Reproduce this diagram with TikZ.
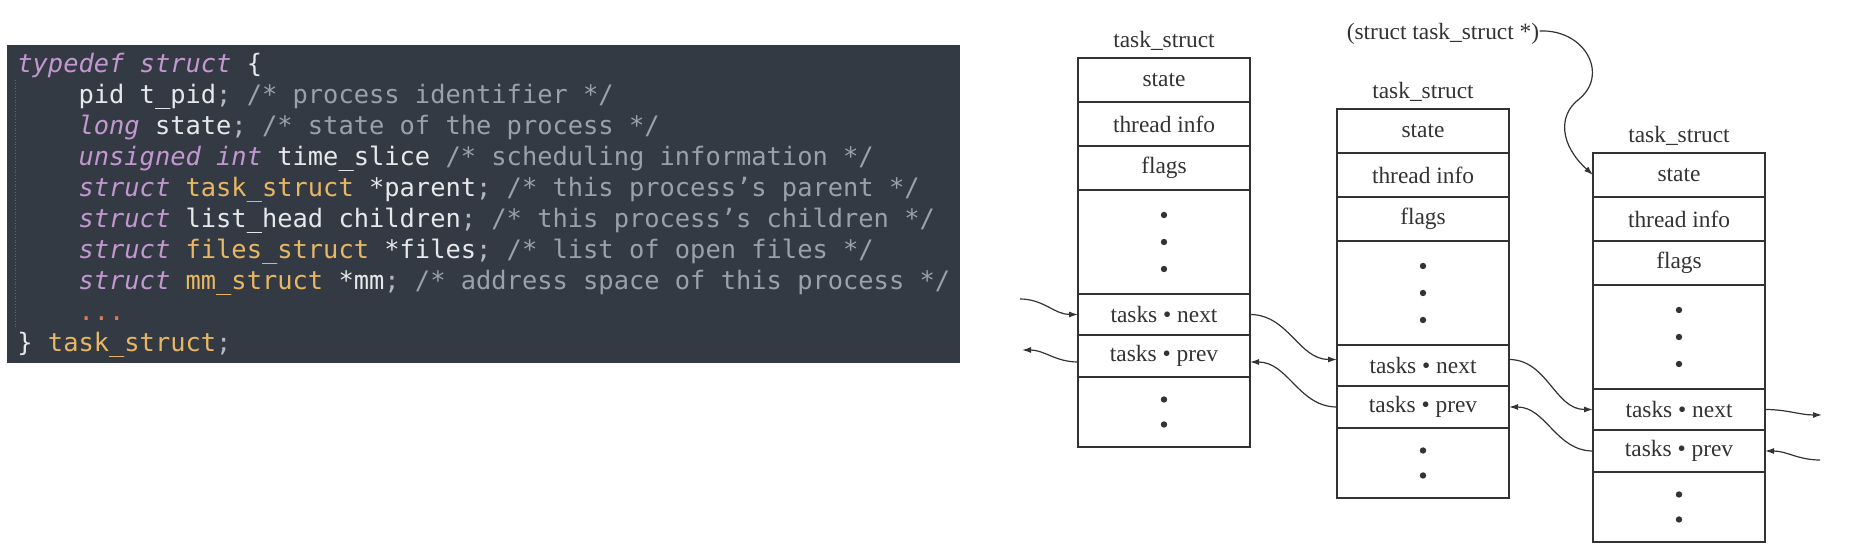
\documentclass[tikz,border=0pt]{standalone}
\usepackage{fontspec}
\setmonofont{DejaVu Sans Mono}
\newfontfamily\figfont{Liberation Serif}
\usepackage{xcolor}
\usepackage{tikz}
\usetikzlibrary{arrows.meta,positioning}

\definecolor{codebg}{HTML}{343A44}
\definecolor{txcol}{HTML}{E6E8EB}
\definecolor{kwcol}{HTML}{C397D0}
\definecolor{tycol}{HTML}{E8B764}
\definecolor{cmcol}{HTML}{9BA1AB}
\definecolor{pncol}{HTML}{B4B9C1}
\definecolor{dtcol}{HTML}{E0795A}
\definecolor{inkcol}{HTML}{333333}

\newcommand\kw[1]{\textcolor{kwcol}{\itshape #1}}
\newcommand\ty[1]{\textcolor{tycol}{#1}}
\newcommand\cm[1]{\textcolor{cmcol}{#1}}
\newcommand\pn[1]{\textcolor{pncol}{#1}}
\newcommand\dt[1]{\textcolor{dtcol}{#1}}
\newcommand\ind{\hphantom{xxxx}}

\begin{document}
\begin{tikzpicture}[
  x=0.5pt, y=-0.5pt,
  codeline/.style={anchor=base west, inner sep=0pt, text=txcol,
                   font=\ttfamily\fontsize{12.7}{15.5}\selectfont},
  cell/.style={draw=inkcol, line width=0.8pt, minimum width=86pt,
               inner sep=0pt, outer sep=0pt, text=inkcol,
               font=\figfont\fontsize{11.7}{14}\selectfont},
  heading/.style={inner sep=0pt, text depth=0pt, text=inkcol,
                  font=\figfont\fontsize{11.7}{14}\selectfont},
  link/.style={draw=inkcol, line width=0.6pt, -{Latex[length=4.5pt,width=3pt]}},
  guide/.style={draw=cmcol!45!codebg, line width=0.4pt, densely dotted}]
\useasboundingbox (0,0) rectangle (1860,560);

% code listing
\fill[codebg] (7,45) rectangle (960,363);
\draw[guide] (15,80) -- (15,327);
\foreach \ln [count=\n] in {
  {\kw{typedef struct} \{},
  {\ind pid t\_pid\pn{;} \cm{/* process identifier */}},
  {\ind\kw{long} state\pn{;} \cm{/* state of the process */}},
  {\ind\kw{unsigned int} time\_slice \cm{/* scheduling information */}},
  {\ind\kw{struct} \ty{task\_struct} *parent\pn{;} \cm{/* this process’s parent */}},
  {\ind\kw{struct} list\_head children\pn{;} \cm{/* this process’s children */}},
  {\ind\kw{struct} \ty{files\_struct} *files\pn{;} \cm{/* list of open files */}},
  {\ind\kw{struct} \ty{mm\_struct} *mm\pn{;} \cm{/* address space of this process */}},
  {\ind\dt{...}},
  {\} \ty{task\_struct}\pn{;}}}
  \node[codeline] (code\n) at (17,41.7+31*\n) {\ln};

% three task_struct records
\foreach \i/\cx/\yy in {1/1164/58, 2/1423/109, 3/1679/153} {
  \node[cell, minimum height=22pt, anchor=north] (state\i) at (\cx,\yy) {state};
  \node[cell, minimum height=22pt, below=0pt of state\i] (info\i) {thread info};
  \node[cell, minimum height=22pt, below=0pt of info\i] (flags\i) {flags};
  \node[cell, minimum height=52pt, below=0pt of flags\i] (gap\i) {};
  \node[cell, minimum height=20.5pt, below=0pt of gap\i] (next\i) {tasks \textbullet{} next};
  \node[cell, minimum height=21pt, below=0pt of next\i] (prev\i) {tasks \textbullet{} prev};
  \node[cell, minimum height=35pt, below=0pt of prev\i] (rest\i) {};
  \node[heading, above=5pt of state\i] (title\i) {task\_struct};
  \foreach \d in {-1,0,1}
    \fill[inkcol] (gap\i.center) ++(0,27*\d) circle[radius=1.6pt];
  \foreach \d in {-1,1}
    \fill[inkcol] (rest\i.center) ++(0,12.5*\d) circle[radius=1.6pt];
}

\node[heading] (ptr) at (1443,31) {(struct task\_struct *)};
\draw[link] (ptr.east) .. controls (1585,29) and (1610,75) .. (1578,100)
  .. controls (1558,116) and (1560,145) .. (state3.west);

% list links
\coordinate (inL) at (1020,299);
\coordinate (outL) at (1022,350);
\coordinate (outR) at (1822,415);
\coordinate (inR) at (1820,460);
\draw[link] (inL) to[out=0,in=180] (next1.west);
\draw[link] ([yshift=-3pt]prev1.west) to[out=180,in=0] (outL);
\draw[link] (next1.east) to[out=0,in=180] ([yshift=3pt]next2.west);
\draw[link] (prev2.west) to[out=180,in=0] ([yshift=-3pt]prev1.east);
\draw[link] ([yshift=3pt]next2.east) to[out=0,in=180] (next3.west);
\draw[link] (prev3.west) to[out=180,in=0] (prev2.east);
\draw[link] (next3.east) to[out=0,in=180] (outR);
\draw[link] (inR) to[out=180,in=0] (prev3.east);
\end{tikzpicture}
\end{document}
